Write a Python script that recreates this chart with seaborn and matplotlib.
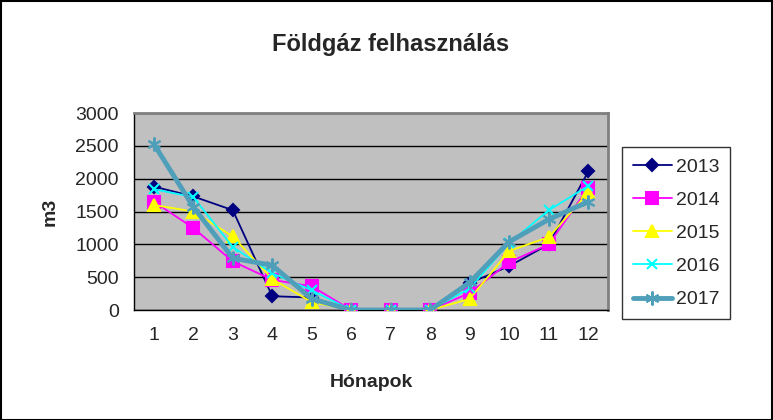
import matplotlib
matplotlib.use('Agg')
import matplotlib.pyplot as plt
from matplotlib.patches import Rectangle
from matplotlib.ticker import MultipleLocator
import seaborn as sns
import pandas as pd

# ---- adatok ----
months = [1, 2, 3, 4, 5, 6, 7, 8, 9, 10, 11, 12]
years = ['2013', '2014', '2015', '2016', '2017']
v2013 = [1880, 1730, 1520, 210, 190, 0, 0, 0, 410, 670, 1000, 2110]
v2014 = [1650, 1250, 740, 460, 360, 0, 0, 0, 260, 730, 1000, 1860]
v2015 = [1600, 1500, 1120, 470, 120, 0, 0, 0, 170, 900, 1110, 1790]
v2016 = [1840, 1720, 960, 560, 300, 0, 0, 0, 330, 1020, 1520, 1890]
v2017 = [2530, 1570, 790, 680, 170, 0, 0, 0, 420, 1040, 1380, 1650]

df = pd.DataFrame({
    'pos': list(range(len(months))) * 5,
    'value': v2013 + v2014 + v2015 + v2016 + v2017,
    'year': [y for y in years for _ in months],
})

colors = {'2013': '#000080', '2014': '#FF00FF', '2015': '#FFFF00',
          '2016': '#00FFFF', '2017': '#4F9FBA'}
markers = {'2013': 'D', '2014': 's', '2015': '^', '2016': 'x', '2017': (6, 2, 0)}
msizes = {'2013': 6, '2014': 8, '2015': 8, '2016': 7, '2017': 10}
lwidths = {'2013': 1.3, '2014': 1.3, '2015': 1.3, '2016': 1.3, '2017': 3.5}

sns.set_style('white')
plt.rcParams['font.family'] = ['Liberation Sans', 'DejaVu Sans']

fig = plt.figure(figsize=(7.73, 4.20), dpi=100)
ax = fig.add_axes([0.1734, 0.2619, 0.6132, 0.469])
ax.set_facecolor('#C0C0C0')

for yr in years:
    sub = df[df['year'] == yr]
    sns.lineplot(data=sub, x='pos', y='value', ax=ax, color=colors[yr],
                 marker=markers[yr], markersize=msizes[yr], linewidth=lwidths[yr],
                 markeredgecolor=colors[yr], markeredgewidth=1.5, label=yr,
                 zorder=3 if yr != '2017' else 4)

ax.set_xlim(-0.5, len(months) - 0.5)
ax.set_ylim(0, 3000)
ax.yaxis.set_major_locator(MultipleLocator(500))
ax.set_xticks(range(len(months)))
ax.set_xticklabels([str(m) for m in months])
ax.set_xticks([i - 0.5 for i in range(len(months) + 1)], minor=True)
ax.tick_params(axis='x', which='major', length=0, pad=12, labelsize=14)
ax.tick_params(axis='x', which='minor', length=5, width=1, color='black', direction='out')
ax.tick_params(axis='y', which='major', length=5, width=1, color='black',
               direction='out', labelsize=14, pad=6)
ax.yaxis.grid(True, color='black', linewidth=1)
ax.xaxis.grid(False)
ax.set_axisbelow(True)

for s in ['top', 'right']:
    ax.spines[s].set_color('#808080')
    ax.spines[s].set_linewidth(2)
for s in ['left', 'bottom']:
    ax.spines[s].set_color('black')
    ax.spines[s].set_linewidth(1)

ax.set_xlabel('Hónapok', fontsize=14, fontweight='bold', labelpad=22)
ax.set_ylabel('m3', fontsize=14, fontweight='bold', labelpad=12)

fig.text(0.505, 0.895, 'Földgáz felhasználás', ha='center', va='center',
         fontsize=17, fontweight='bold')

leg = ax.legend(loc='center left', bbox_to_anchor=(1.03, 0.39), frameon=True,
                fancybox=False, edgecolor='black', fontsize=14, handlelength=2.0,
                labelspacing=0.8, borderpad=0.55, handletextpad=0.2,
                borderaxespad=0)
leg.get_frame().set_linewidth(1)

fig.patches.append(Rectangle((0.001, 0.001), 0.998, 0.997, transform=fig.transFigure,
                             fill=False, edgecolor='black', linewidth=1.5))

fig.savefig('out.png', dpi=100)
